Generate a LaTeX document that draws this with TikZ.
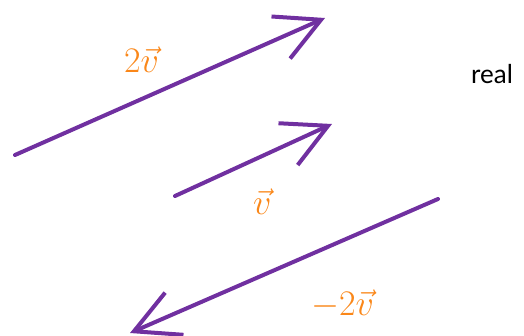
\documentclass[tikz,border=0pt]{standalone}
\usepackage{fix-cm}
\usepackage{fontspec}
\usepackage{amsmath}
\usepackage{tikz}
\usetikzlibrary{arrows.meta}
\newfontfamily\latofont{Lato}
\definecolor{vecpurple}{RGB}{112,48,160}
\definecolor{vecorange}{RGB}{250,135,25}
\tikzset{
  vecarr/.style={draw=vecpurple, line width=4pt, line cap=round,
    -{Straight Barb[length=44pt,width=46pt]}},
  veclbl/.style={text=vecorange, font=\fontsize{36}{40}\selectfont, inner sep=0pt, anchor=base west},
  wordlbl/.style={font=\latofont\fontsize{26}{30}\selectfont, inner sep=0pt, anchor=base west},
}
\begin{document}
\begin{tikzpicture}[x=1pt,y=-1pt]
  \useasboundingbox (0,0) rectangle (524,335);
  % vector end points
  \coordinate (twovtail) at (15,155);
  \coordinate (twovtip) at (325,18);
  \coordinate (vtail) at (175,196);
  \coordinate (vtip) at (332,124);
  \coordinate (negtail) at (438,199);
  \coordinate (negtip) at (130,333);
  % vectors
  \draw[vecarr] (twovtail) -- (twovtip);
  \draw[vecarr] (vtail) -- (vtip);
  \draw[vecarr] (negtail) -- (negtip);
  % labels
  \node[veclbl] (twovlbl) at (124,72) {$2\vec{v}$};
  \node[veclbl] (vlbl) at (253,214) {$\vec{v}$};
  \node[veclbl] (neglbl) at (311,315) {$-2\vec{v}$};
  \node[wordlbl] (reallbl) at (471,83) {real};
\end{tikzpicture}
\end{document}
